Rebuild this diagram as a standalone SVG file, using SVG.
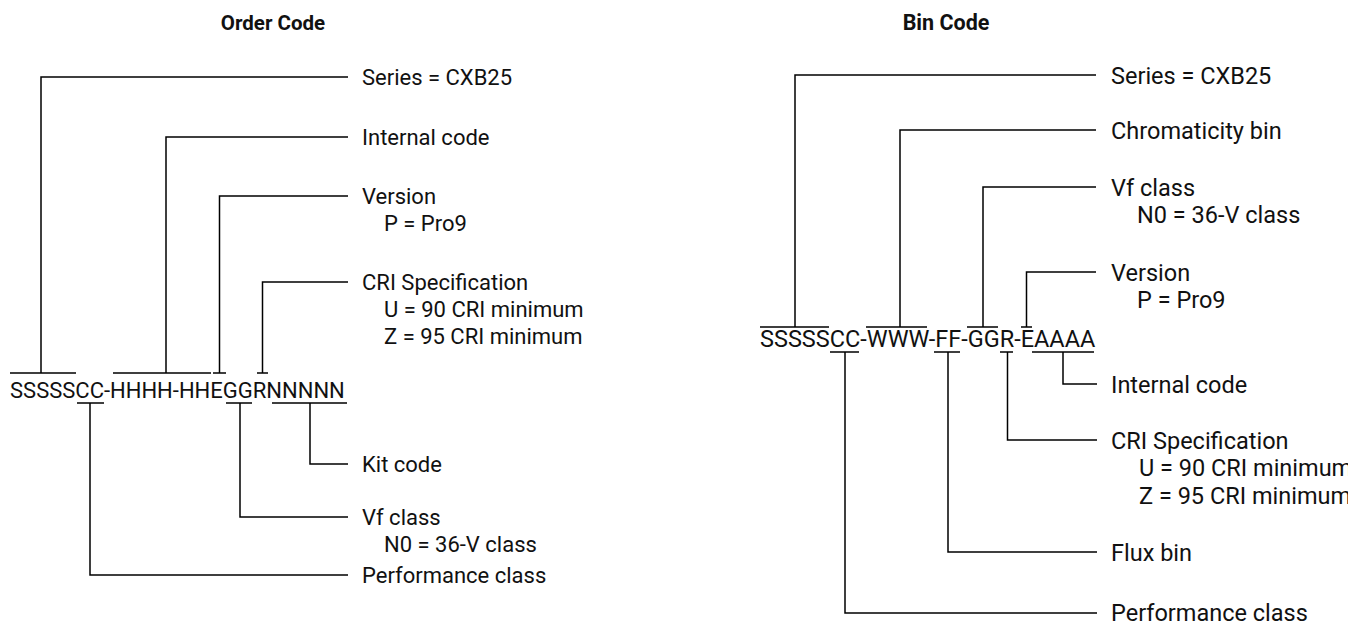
<svg xmlns="http://www.w3.org/2000/svg" width="1359" height="626" viewBox="0 0 1359 626">
<style>
.t{font-family:Roboto,"Liberation Sans",sans-serif;font-size:22px;fill:#111}
.r{font-family:Roboto,"Liberation Sans",sans-serif;font-size:23.5px;fill:#111}
.h{font-family:Roboto,"Liberation Sans",sans-serif;font-weight:bold;fill:#111;text-anchor:middle}
.l{fill:none;stroke:#000;stroke-width:1.5}
</style>
<defs>
<clipPath id="rc"><rect x="1100" y="0" width="248" height="626"/></clipPath>
</defs>
<rect width="1359" height="626" fill="#fff"/>
<text class="h" x="273" y="30" font-size="20.5">Order Code</text>
<text class="h" x="946" y="30" font-size="21.5">Bin Code</text>
<g id="connectors">
<path class="l" d="M10,373H76M41,373V77H348"/>
<path class="l" d="M113,373H211M166,373V137H348"/>
<path class="l" d="M213,373H226M219.5,373V196H348"/>
<path class="l" d="M257,373H268M262.5,373V282H348"/>
<path class="l" d="M77,403H104M90,403V575H348"/>
<path class="l" d="M226,403H252M240,403V517H348"/>
<path class="l" d="M272,403H347M310,403V464H348"/>
<path class="l" d="M760,327H829M795,327V75H1096"/>
<path class="l" d="M866,327H927M900,327V130H1096"/>
<path class="l" d="M967,327H998M983,327V187H1096"/>
<path class="l" d="M1021,327H1032M1026.5,327V272H1096"/>
<path class="l" d="M830,352H859M845,352V613H1097"/>
<path class="l" d="M934,352H960M948,352V552H1097"/>
<path class="l" d="M1000,352H1013M1007.5,352V440H1097"/>
<path class="l" d="M1032,352H1094M1063,352V384H1097"/>
</g>
<g id="order-code"><text class="t" x="10" y="398">SSSSSCC-HHHH-HHEGGRNNNNN</text></g>
<g id="o-series"><text class="t" x="362" y="85">Series = CXB25</text></g>
<g id="o-internal"><text class="t" x="362" y="145">Internal code</text></g>
<g id="o-version"><text class="t" x="362" y="204">Version</text><text class="t" x="384" y="231">P = Pro9</text></g>
<g id="o-cri"><text class="t" x="362" y="290">CRI Specification</text><text class="t" x="384" y="317">U = 90 CRI minimum</text><text class="t" x="384" y="344">Z = 95 CRI minimum</text></g>
<g id="o-kit"><text class="t" x="362" y="472">Kit code</text></g>
<g id="o-vf"><text class="t" x="362" y="525">Vf class</text><text class="t" x="384" y="552">N0 = 36-V class</text></g>
<g id="o-perf"><text class="t" x="362" y="583">Performance class</text></g>
<g id="bin-code"><text class="r" x="760" y="347">SSSSSCC-WWW-FF-GGR-EAAAA</text></g>
<g clip-path="url(#rc)">
<g id="b-series"><text class="r" x="1111" y="83.5">Series = CXB25</text></g>
<g id="b-chroma"><text class="r" x="1111" y="138.5">Chromaticity bin</text></g>
<g id="b-vf"><text class="r" x="1111" y="195.5">Vf class</text><text class="r" x="1137" y="222.5">N0 = 36-V class</text></g>
<g id="b-version"><text class="r" x="1111" y="280.5">Version</text><text class="r" x="1137" y="307.5">P = Pro9</text></g>
<g id="b-internal"><text class="r" x="1111" y="392.5">Internal code</text></g>
<g id="b-cri"><text class="r" x="1111" y="448.5">CRI Specification</text><text class="r" x="1139" y="476">U = 90 CRI minimum</text><text class="r" x="1139" y="503.5">Z = 95 CRI minimum</text></g>
<g id="b-flux"><text class="r" x="1111" y="561">Flux bin</text></g>
<g id="b-perf"><text class="r" x="1111" y="621">Performance class</text></g>
</g>
</svg>
